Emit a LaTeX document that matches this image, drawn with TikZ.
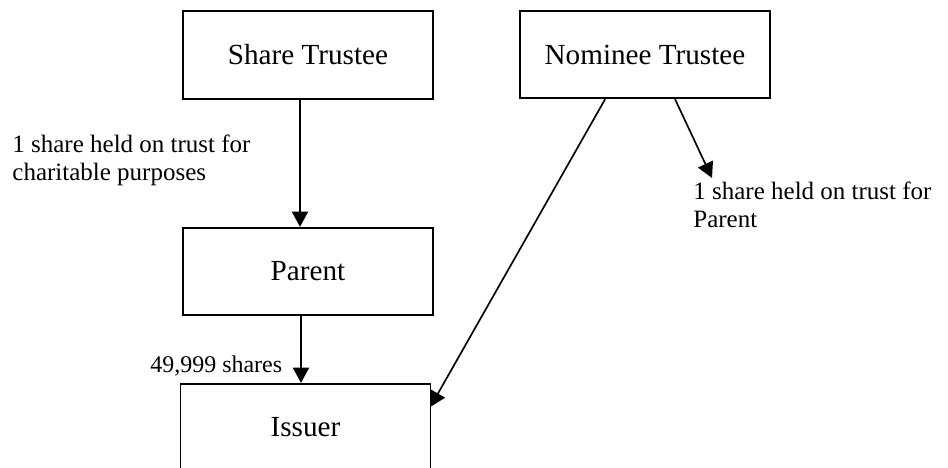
\documentclass[tikz,border=0pt]{standalone}
\usepackage{fontspec}
\setmainfont{Liberation Serif}
\usetikzlibrary{arrows.meta,calc}
\pgfdeclarelayer{bg}
\pgfsetlayers{bg,main}
\begin{document}
\begin{tikzpicture}[x=0.48pt,y=-0.48pt,
  entity/.style={draw, line width=0.8pt, fill=white, inner sep=0pt,
    minimum width=120pt, minimum height=42pt,
    font=\fontsize{14}{16}\selectfont},
  conn/.style={line width=0.8pt, -{Triangle[width=7.8pt,length=7.4pt]}},
  lbl/.style={inner sep=0pt, align=left, font=\fontsize{12}{13.44}\selectfont}]
\useasboundingbox (0,0) rectangle (948,468);
\clip (0,0) rectangle (948,468);
\node[entity] (st) at (308,55) {Share Trustee};
\node[entity] (nt) at (645,54.5) {Nominee Trustee};
\node[entity] (pa) at (308,271.5) {Parent};
\node[entity] (is) at (305.5,427.5) {Issuer};
\node[lbl, anchor=base west] (l1) at (12,180) {1 share held on trust for\\charitable purposes};
\node[lbl, anchor=base west] (l2) at (693,227) {1 share held on trust for\\Parent};
\node[lbl, anchor=base west, font=\fontsize{11.5}{13}\selectfont] (l3) at (150,372) {49,999 shares};
\coordinate (t2) at (712,178);
\begin{pgfonlayer}{bg}
\fill[white] (0,0) rectangle (948,468);
\draw[conn] ($(st.south)+(-8,0)$) -- ($(pa.north)+(-8,0)$);
\draw[conn] ($(pa.south)+(-7,0)$) -- ($(is.north)+(-4.5,0)$);
\draw[conn] ($(nt.south west)+(86,0)$) -- ($(is.north east)+(-1,24)$);
\draw[conn] ($(nt.south)+(30,0)$) -- (t2);
\end{pgfonlayer}
\end{tikzpicture}
\end{document}
